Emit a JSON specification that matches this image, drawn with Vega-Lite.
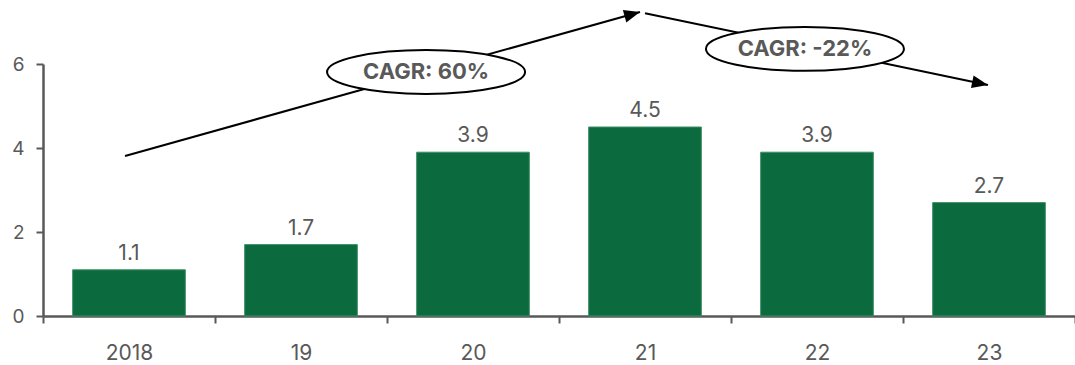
{
  "$schema": "https://vega.github.io/schema/vega-lite/v6.json",
  "autosize": "none",
  "width": 1032,
  "height": 252,
  "padding": {"left": 43, "top": 64, "right": 0, "bottom": 49},
  "background": "white",
  "config": {
    "view": {"stroke": null},
    "font": "Inter",
    "axis": {"grid": false, "labelFont": "Inter", "labelColor": "#595959", "domainColor": "#595959", "tickColor": "#595959"}
  },
  "datasets": {
    "sales": [
      {"year": "2018", "value": 1.1},
      {"year": "19", "value": 1.7},
      {"year": "20", "value": 3.9},
      {"year": "21", "value": 4.5},
      {"year": "22", "value": 3.9},
      {"year": "23", "value": 2.7}
    ],
    "arrows": [
      {"id": "up", "x": 0.477, "y": 3.81, "x2": 3.471, "y2": 7.24},
      {"id": "down", "x": 3.5, "y": 7.21, "x2": 5.494, "y2": 5.5}
    ],
    "cagr": [
      {"label": "CAGR: 60%", "x": 2.227, "y": 5.81},
      {"label": "CAGR: -22%", "x": 4.43, "y": 6.36}
    ]
  },
  "resolve": {"scale": {"x": "independent"}, "axis": {"x": "independent"}},
  "layer": [
    {
      "data": {"name": "sales"},
      "mark": {"type": "bar", "color": "#0B6B3E", "stroke": "#3f8f66", "strokeWidth": 1, "width": {"band": 0.655}},
      "encoding": {
        "x": {
          "field": "year", "type": "nominal", "sort": null,
          "scale": {"paddingInner": 0, "paddingOuter": 0},
          "axis": {"title": null, "labelAngle": 0, "labelFontSize": 21, "labelPadding": 19, "tickBand": "extent", "tickSize": 7, "tickWidth": 2, "domainWidth": 2.5}
        },
        "y": {
          "field": "value", "type": "quantitative",
          "scale": {"domain": [0, 6], "nice": false},
          "axis": {"title": null, "values": [0, 2, 4, 6], "labelFontSize": 19, "labelPadding": 12, "tickSize": 7, "tickWidth": 2, "domainWidth": 2.5}
        }
      }
    },
    {
      "data": {"name": "sales"},
      "mark": {"type": "text", "baseline": "alphabetic", "dy": -10, "fontSize": 21, "color": "#595959"},
      "encoding": {
        "x": {"field": "year", "type": "nominal", "sort": null, "scale": {"paddingInner": 0, "paddingOuter": 0}, "axis": null},
        "y": {"field": "value", "type": "quantitative", "scale": {"domain": [0, 6], "nice": false}},
        "text": {"field": "value", "type": "quantitative", "format": ".1f"}
      }
    },
    {
      "data": {"name": "arrows"},
      "mark": {"type": "rule", "color": "black", "strokeWidth": 2},
      "encoding": {
        "x": {"field": "x", "type": "quantitative", "scale": {"domain": [0, 6], "nice": false, "zero": false}, "axis": null},
        "y": {"field": "y", "type": "quantitative", "scale": {"domain": [0, 6], "nice": false}},
        "x2": {"field": "x2"},
        "y2": {"field": "y2"}
      }
    },
    {
      "data": {"name": "arrows"},
      "transform": [{"filter": "datum.id === 'up'"}],
      "mark": {"type": "point", "shape": "M 0 0 L -2 -0.8 L -2 0.8 Z", "size": 256, "angle": 344.4, "filled": true, "color": "black", "opacity": 1},
      "encoding": {
        "x": {"field": "x2", "type": "quantitative", "scale": {"domain": [0, 6], "nice": false, "zero": false}, "axis": null},
        "y": {"field": "y2", "type": "quantitative", "scale": {"domain": [0, 6], "nice": false}}
      }
    },
    {
      "data": {"name": "arrows"},
      "transform": [{"filter": "datum.id === 'down'"}],
      "mark": {"type": "point", "shape": "M 0 0 L -2 -0.8 L -2 0.8 Z", "size": 256, "angle": 11.85, "filled": true, "color": "black", "opacity": 1},
      "encoding": {
        "x": {"field": "x2", "type": "quantitative", "scale": {"domain": [0, 6], "nice": false, "zero": false}, "axis": null},
        "y": {"field": "y2", "type": "quantitative", "scale": {"domain": [0, 6], "nice": false}}
      }
    },
    {
      "data": {"name": "cagr"},
      "mark": {"type": "point", "shape": "M -1 0 A 1 0.222 0 1 0 1 0 A 1 0.222 0 1 0 -1 0 Z", "size": 39204, "filled": true, "fill": "white", "stroke": "black", "strokeWidth": 2, "opacity": 1, "fillOpacity": 1, "strokeOpacity": 1},
      "encoding": {
        "x": {"field": "x", "type": "quantitative", "scale": {"domain": [0, 6], "nice": false, "zero": false}, "axis": null},
        "y": {"field": "y", "type": "quantitative", "scale": {"domain": [0, 6], "nice": false}}
      }
    },
    {
      "data": {"name": "cagr"},
      "mark": {"type": "text", "fontSize": 22, "fontWeight": "bold", "color": "#595959", "baseline": "middle", "align": "center"},
      "encoding": {
        "x": {"field": "x", "type": "quantitative", "scale": {"domain": [0, 6], "nice": false, "zero": false}, "axis": null},
        "y": {"field": "y", "type": "quantitative", "scale": {"domain": [0, 6], "nice": false}},
        "text": {"field": "label"}
      }
    }
  ]
}
